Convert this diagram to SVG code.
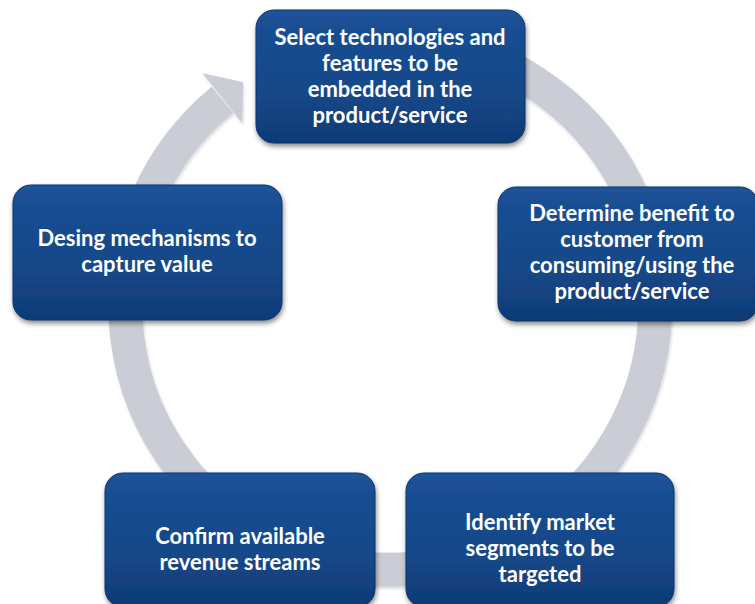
<svg xmlns="http://www.w3.org/2000/svg" width="755" height="604" viewBox="0 0 755 604">
  <defs>
    <linearGradient id="boxGrad" x1="0" y1="0" x2="0" y2="1">
      <stop offset="0" stop-color="#1c549c"/>
      <stop offset="0.08" stop-color="#1a4f94"/>
      <stop offset="0.6" stop-color="#164889"/>
      <stop offset="1" stop-color="#0f3b76"/>
    </linearGradient>
    <filter id="shadow" x="-10%" y="-10%" width="120%" height="125%">
      <feGaussianBlur in="SourceAlpha" stdDeviation="2.5"/>
      <feOffset dx="1" dy="3" result="b"/>
      <feComponentTransfer><feFuncA type="linear" slope="0.45"/></feComponentTransfer>
      <feMerge><feMergeNode/><feMergeNode in="SourceGraphic"/></feMerge>
    </filter>
    <filter id="ringShadow" x="-10%" y="-10%" width="120%" height="120%">
      <feGaussianBlur in="SourceAlpha" stdDeviation="1.5"/>
      <feOffset dx="1" dy="1.5"/>
      <feComponentTransfer><feFuncA type="linear" slope="0.15"/></feComponentTransfer>
      <feMerge><feMergeNode/><feMergeNode in="SourceGraphic"/></feMerge>
    </filter>
  </defs>
  <style>
    .box { fill: url(#boxGrad); stroke: #0c336a; stroke-width: 1; filter: url(#shadow); }
    .lbl { font-family: Lato, "Liberation Sans", sans-serif; font-weight: 700; font-size: 22px; fill: #ffffff; text-anchor: middle; }
    .ring { fill: none; stroke: #cbcdd6; stroke-width: 34; }
    .head { fill: #cbcdd6; }
  </style>
  <rect width="755" height="604" fill="#ffffff"/>
  <g id="connectors" filter="url(#ringShadow)">
    <path class="ring" d="M 278,64.8 A 265 265 0 1 1 222.4,99.8"/>
    <polygon class="head" points="202.4,73.3 243,82 242.4,123.6"/>
  </g>
  <g id="node-select">
    <rect class="box" x="256" y="10" width="269" height="133" rx="18"/>
    <text class="lbl" x="390" y="45">Select technologies and</text>
    <text class="lbl" x="390" y="71">features to be</text>
    <text class="lbl" x="390" y="97">embedded in the</text>
    <text class="lbl" x="390" y="123">product/service</text>
  </g>
  <g id="node-benefit">
    <rect class="box" x="498" y="187" width="260" height="134" rx="18"/>
    <text class="lbl" x="632" y="221">Determine benefit to</text>
    <text class="lbl" x="632" y="247">customer from</text>
    <text class="lbl" x="632" y="273">consuming/using the</text>
    <text class="lbl" x="632" y="299">product/service</text>
  </g>
  <g id="node-identify">
    <rect class="box" x="406" y="473" width="268" height="134" rx="18"/>
    <text class="lbl" x="540" y="530">Identify market</text>
    <text class="lbl" x="540" y="556">segments to be</text>
    <text class="lbl" x="540" y="582">targeted</text>
  </g>
  <g id="node-confirm">
    <rect class="box" x="105" y="473" width="270" height="134" rx="18"/>
    <text class="lbl" x="240" y="544">Confirm available</text>
    <text class="lbl" x="240" y="570">revenue streams</text>
  </g>
  <g id="node-capture">
    <rect class="box" x="13" y="185" width="269" height="135" rx="18"/>
    <text class="lbl" x="147" y="246">Desing mechanisms to</text>
    <text class="lbl" x="147" y="272">capture value</text>
  </g>
</svg>
